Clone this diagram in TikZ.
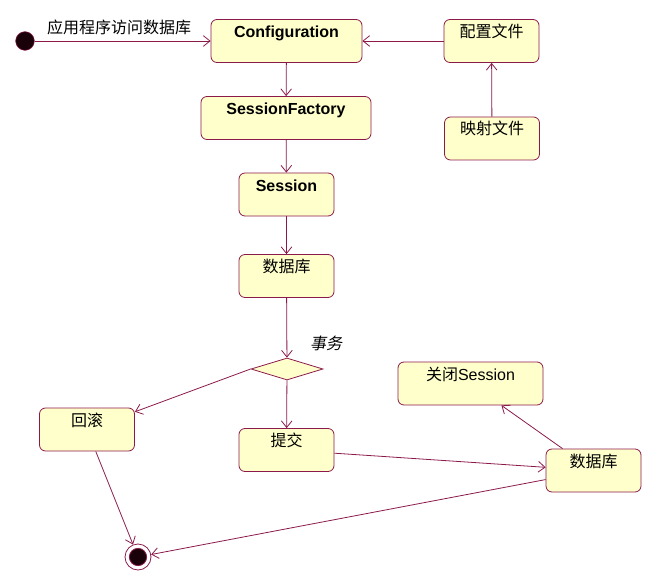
\documentclass[tikz,border=0pt]{standalone}
\usepackage{fontspec}
\setmainfont{Liberation Sans}
\newfontfamily\cjk{Noto Sans CJK SC}
\newfontfamily\cjkslant{Noto Sans CJK SC}[FakeSlant=0.2]
\usetikzlibrary{arrows.meta,shapes.geometric}
\definecolor{Wire}{HTML}{8B1A4B}
\definecolor{Pale}{HTML}{FFFFCC}
\definecolor{Dot}{HTML}{1A0008}

\begin{document}
\begin{tikzpicture}[x=0.75pt,y=-0.75pt,
  state/.style={draw=Wire,fill=Pale,rounded corners=4.5pt,line width=0.6pt,minimum width=#1,inner xsep=0pt,inner ysep=3pt,text height=10.5pt,text depth=15.75pt,font=\fontsize{12pt}{14pt}\selectfont},
  state/.default=71.25pt,
  bold/.style={font=\fontsize{12pt}{14pt}\selectfont\bfseries},
  choice/.style={diamond,draw=Wire,fill=Pale,line width=0.6pt,aspect=3,minimum width=54pt,minimum height=16.5pt,inner sep=0pt},
  startdot/.style={circle,draw=Wire,fill=Dot,minimum size=14pt,inner sep=0pt},
  enddot/.style={circle,draw=Wire,fill=white,line width=0.6pt,minimum size=19.5pt,inner sep=0pt,path picture={\fill[Dot,draw=Wire] (path picture bounding box.center) circle (6.5pt);}},
  note/.style={font=\fontsize{12pt}{14pt}\selectfont,inner sep=1pt},
  flow/.style={draw=Wire,line width=0.6pt,-{Straight Barb[length=5pt,width=8pt]}}]
\useasboundingbox (0,0) rectangle (660,581);
% states
\node[startdot] (start) at (25,41) {};
\node[state=113.25pt,bold] (conf) at (286.5,41) {Configuration};
\node[state] (cfgfile) at (491.5,41) {\cjk 配置文件};
\node[state] (mapfile) at (492,138.5) {\cjk 映射文件};
\node[state=127.5pt,bold] (factory) at (286,118) {SessionFactory};
\node[state,bold] (session) at (286.5,194.5) {Session};
\node[state] (db) at (286.5,276) {\cjk 数据库};
\node[choice] (txn) at (287,369) {};
\node[state] (rollback) at (87,429.5) {\cjk 回滚};
\node[state] (commit) at (286.5,450) {\cjk 提交};
\node[state] (dbdone) at (593.5,470.5) {\cjk 数据库};
\node[state=108.75pt] (close) at (470.5,383.5) {{\cjk 关闭}Session};
\node[enddot] (end) at (138,557) {};
% labels
\node[note] (access) at (119,27) {\cjk 应用程序访问数据库};
\node[note] (txnlabel) at (326,343) {\cjkslant 事务};
% transitions
\draw[flow] (start) -- (conf);
\draw[flow] (cfgfile) -- (conf);
\draw[flow] (mapfile) -- (cfgfile);
\draw[flow] (conf) -- (factory);
\draw[flow] (factory) -- (session);
\draw[flow] (session) -- (db);
\draw[flow] (db) -- (txn);
\draw[flow] (txn.west) -- (rollback);
\draw[flow] (txn) -- (commit);
\draw[flow] (commit) -- (dbdone);
\draw[flow] (dbdone) -- (close);
\draw[flow] (dbdone) -- (end);
\draw[flow] (rollback) -- (end);
\end{tikzpicture}
\end{document}
